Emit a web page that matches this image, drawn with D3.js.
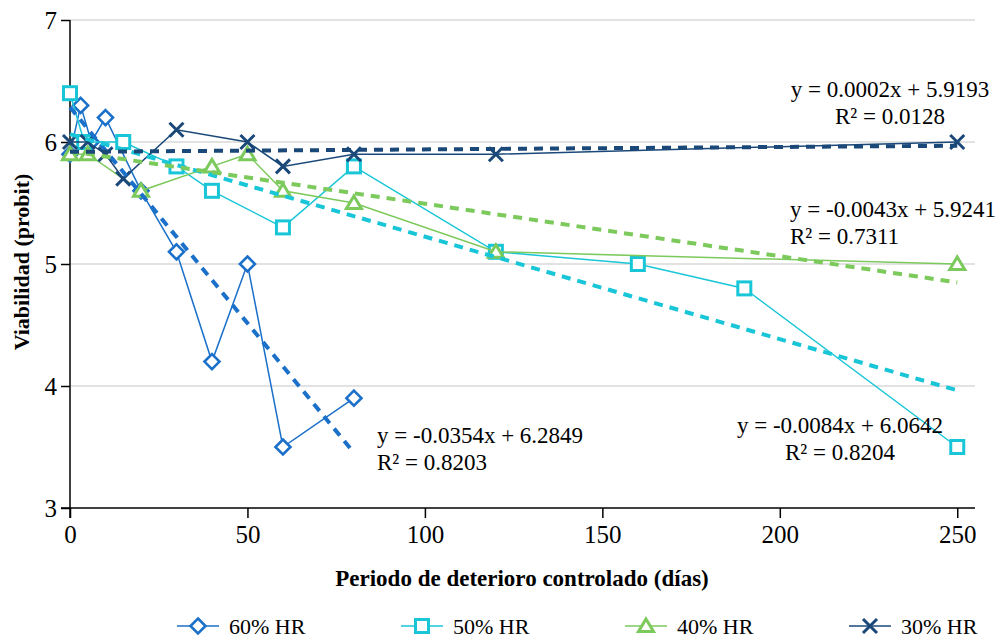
<!DOCTYPE html>
<html>
<head>
<meta charset="utf-8">
<script src="https://cdn.jsdelivr.net/npm/d3@7/dist/d3.min.js"></script>
<style>
  body { margin: 0; background: #fff; }
  text { font-family: "Liberation Serif", "Times New Roman", serif; fill: #000; }
</style>
</head>
<body>
<script>
// data
const dias60 = [0, 3, 6, 10, 20, 30, 40, 50, 60, 80];
const prob60 = [5.9, 6.3, 6.0, 6.2, 5.6, 5.1, 4.2, 5.0, 3.5, 3.9];

const dias50 = [0, 4, 15, 30, 40, 60, 80, 120, 160, 190, 250];
const prob50 = [6.4, 6.0, 6.0, 5.8, 5.6, 5.3, 5.8, 5.1, 5.0, 4.8, 3.5];

const dias40 = [0, 5, 20, 40, 50, 60, 80, 120, 250];
const prob40 = [5.9, 5.9, 5.6, 5.8, 5.9, 5.6, 5.5, 5.1, 5.0];

const dias30 = [0, 5, 10, 15, 30, 50, 60, 80, 120, 250];
const prob30 = [6.0, 6.0, 5.9, 5.7, 6.1, 6.0, 5.8, 5.9, 5.9, 6.0];

const seriesNames = ["60% HR", "50% HR", "40% HR", "30% HR"];
const seriesColors = ["#1b70c9", "#19c6d8", "#7cc95c", "#1a4878"];
const markerKinds = ["diamond", "square", "triangle", "cross"];

// linear trend lines (slope, intercept, x end) and their labels
const trendSlope = [-0.0354, -0.0084, -0.0043, 0.0002];
const trendIntercept = [6.2849, 6.0642, 5.9241, 5.9193];
const trendEnd = [80, 250, 250, 250];
const eqLines = [
  ["y = -0.0354x + 6.2849", "R² = 0.8203"],
  ["y = -0.0084x + 6.0642", "R² = 0.8204"],
  ["y = -0.0043x + 5.9241", "R² = 0.7311"],
  ["y = 0.0002x + 5.9193", "R² = 0.0128"]
];

const xTicks = [0, 50, 100, 150, 200, 250];
const yTicks = [3, 4, 5, 6, 7];

const width = 1005, height = 638;
const svg = d3.select("body").append("svg")
  .attr("width", width)
  .attr("height", height);

const x = d3.scaleLinear().domain([0, 255]).range([70, 975]);
const y = d3.scaleLinear().domain([3, 7]).range([508, 20]);

// grid
svg.append("g").selectAll("line")
  .data(yTicks.slice(1))
  .enter().append("line")
  .attr("x1", x(0)).attr("x2", x(255))
  .attr("y1", d => y(d)).attr("y2", d => y(d))
  .attr("stroke", "#d9d9d9").attr("stroke-width", 1.3);

// axes
const yAxis = svg.append("g")
  .attr("transform", `translate(${x(0)},0)`)
  .call(d3.axisLeft(y).tickValues(yTicks).tickSize(9).tickPadding(4).tickFormat(d3.format("d")));
const xAxis = svg.append("g")
  .attr("transform", `translate(0,${y(3)})`)
  .call(d3.axisBottom(x).tickValues(xTicks).tickSize(10).tickPadding(7).tickFormat(d3.format("d")));
[xAxis, yAxis].forEach(a => {
  a.attr("font-family", "'Liberation Serif', 'Times New Roman', serif").attr("font-size", 25);
  a.select(".domain").attr("stroke", "#000").attr("stroke-width", 1.5);
  a.selectAll(".tick line").attr("stroke", "#000").attr("stroke-width", 1.5);
  a.selectAll(".tick text")
    .style("font-family", "'Liberation Serif', 'Times New Roman', serif")
    .style("font-size", "25px").attr("fill", "#000");
});
yAxis.select(".domain").attr("d", `M0,${y(7)}V${y(3) + 10}`);
xAxis.select(".domain").attr("d", `M${x(0) - 9},0H${x(255)}`);

// axis titles
svg.append("text")
  .attr("x", 522).attr("y", 586)
  .attr("text-anchor", "middle")
  .style("font-size", "23px").style("font-weight", "bold")
  .text("Periodo de deterioro controlado (días)");
svg.append("text")
  .attr("transform", "translate(29,262) rotate(-90)")
  .attr("text-anchor", "middle")
  .style("font-size", "22px").style("font-weight", "bold")
  .text("Viabilidad (probit)");

function drawMarker(g, kind, color) {
  if (kind === "diamond") {
    g.append("path").attr("d", "M0,-7.5L7.5,0L0,7.5L-7.5,0Z")
      .attr("fill", "#fff").attr("stroke", color).attr("stroke-width", 2.6);
  } else if (kind === "square") {
    g.append("rect").attr("x", -6.5).attr("y", -6.5).attr("width", 13).attr("height", 13)
      .attr("fill", "#fff").attr("stroke", color).attr("stroke-width", 3);
  } else if (kind === "triangle") {
    g.append("path").attr("d", "M0,-7L7.5,5.5L-7.5,5.5Z")
      .attr("fill", "#fff").attr("stroke", color).attr("stroke-width", 3);
  } else {
    g.append("path").attr("d", "M-7,-7L7,7M-7,7L7,-7")
      .attr("fill", "none").attr("stroke", color).attr("stroke-width", 3);
  }
}

const allDias = [dias60, dias50, dias40, dias30];
const allProb = [prob60, prob50, prob40, prob30];
const line = d3.line().x(d => x(d[0])).y(d => y(d[1]));

// series lines and markers
allDias.forEach((ds, i) => {
  const pts = ds.map((d, j) => [d, allProb[i][j]]);
  svg.append("path").datum(pts)
    .attr("d", line)
    .attr("fill", "none")
    .attr("stroke", seriesColors[i])
    .attr("stroke-width", 1.5);
  svg.append("g").selectAll("g")
    .data(pts)
    .enter().append("g")
    .attr("transform", d => `translate(${x(d[0])},${y(d[1])})`)
    .each(function () { drawMarker(d3.select(this), markerKinds[i], seriesColors[i]); });
});

// trend lines
trendSlope.forEach((m, i) => {
  const pts = [0, trendEnd[i]].map(d => [d, m * d + trendIntercept[i]]);
  svg.append("path").datum(pts)
    .attr("d", line)
    .attr("fill", "none")
    .attr("stroke", seriesColors[i])
    .attr("stroke-width", 4)
    .attr("stroke-dasharray", "9,7");
});

// equation labels
const eqPos = [
  { x: 377, y: 443, anchor: "start" },
  { x: 840, y: 433, anchor: "middle" },
  { x: 790, y: 217, anchor: "start" },
  { x: 890, y: 97, anchor: "middle" }
];
eqLines.forEach((lines, i) => {
  lines.forEach((t, k) => {
    svg.append("text")
      .attr("x", eqPos[i].x).attr("y", eqPos[i].y + k * 27)
      .attr("text-anchor", eqPos[i].anchor)
      .style("font-size", "23px")
      .text(t);
  });
});

// legend
const legend = svg.append("g").attr("transform", "translate(0,626)");
seriesNames.forEach((name, i) => {
  const cx = 198 + i * 224;
  const item = legend.append("g").attr("transform", `translate(${cx},0)`);
  item.append("line").attr("x1", -21).attr("x2", 21)
    .attr("stroke", seriesColors[i]).attr("stroke-width", 1.5);
  drawMarker(item, markerKinds[i], seriesColors[i]);
  item.append("text").attr("x", 31).attr("y", 8)
    .style("font-size", "22px")
    .text(name);
});
</script>
</body>
</html>
